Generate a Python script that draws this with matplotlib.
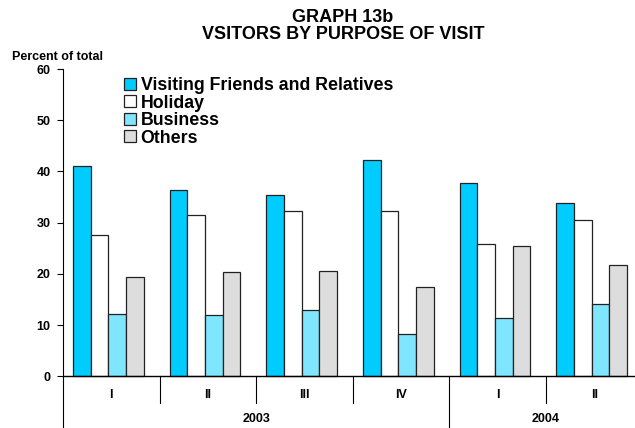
import matplotlib
matplotlib.use("Agg")
import matplotlib.pyplot as plt
import numpy as np

plt.rcParams["font.family"] = ["Liberation Sans", "DejaVu Sans"]
plt.rcParams["font.weight"] = "bold"

# ─── Data ───────────────────────────────────────────────────
quarters = ["I", "II", "III", "IV", "I", "II"]
years = ["2003", "2004"]
year_span = [(0, 3), (4, 5)]          # first/last quarter index of each year
series = ["Visiting Friends and Relatives", "Holiday", "Business", "Others"]
vfr      = [41.0, 36.4, 35.4, 42.2, 37.8, 33.8]
holiday  = [27.5, 31.4, 32.2, 32.3, 25.8, 30.5]
business = [12.2, 11.9, 12.9, 8.3, 11.3, 14.1]
others   = [19.3, 20.4, 20.5, 17.4, 25.4, 21.8]
values = [vfr, holiday, business, others]
colors = ["#00CCFF", "#FFFFFF", "#80E5FF", "#DDDDDD"]

fig = plt.figure(figsize=(6.35, 4.28), dpi=100)
ax = fig.add_axes([63 / 635, 0.0, 572 / 635, (428 - 69) / 428])

x = np.arange(len(quarters))
w = 0.183
for k, (vals, c, name) in enumerate(zip(values, colors, series)):
    ax.bar(x + (k - 1.5) * w - 0.03, vals, width=w, color=c,
           edgecolor="#222222", linewidth=0.9, label=name, zorder=3)

ax.set_xlim(-0.5, 5.42)
ax.set_ylim(-10.1, 60)
ax.set_yticks(range(0, 61, 10))
ax.tick_params(axis="y", direction="out", length=4, width=0.8,
               labelsize=9, pad=5)
ax.set_xticks([])
for s in ["top", "right", "bottom"]:
    ax.spines[s].set_visible(False)
ax.spines["left"].set_linewidth(0.8)
ax.axhline(0, color="black", linewidth=1, zorder=4)

# category dividers and labels below the axis
for i in range(len(quarters) - 1):
    depth = -10.1 if i == year_span[0][1] else -5.2
    ax.plot([i + 0.5, i + 0.5], [0, depth], color="black",
            linewidth=0.8, clip_on=False)
for i, q in enumerate(quarters):
    ax.text(i, -3.6, q, ha="center", va="center", fontsize=9,
            fontweight="bold")
for yr, (a, b) in zip(years, year_span):
    ax.text((a + b) / 2, -8.4, yr, ha="center", va="center",
            fontsize=9, fontweight="bold")

fig.text(12 / 635, 1 - 57 / 428, "Percent of total", fontsize=9,
         fontweight="bold", va="center", ha="left")
fig.text(343 / 635, 1 - 17.5 / 428, "GRAPH 13b", fontsize=13,
         fontweight="bold", ha="center", va="center")
fig.text(343 / 635, 1 - 34.5 / 428, "VSITORS BY PURPOSE OF VISIT",
         fontsize=13, fontweight="bold", ha="center", va="center")

ax.legend(loc="upper left", bbox_to_anchor=(124 / 635, 1 - 77 / 428),
          bbox_transform=fig.transFigure, frameon=False,
          prop={"weight": "bold", "size": 12.8}, handlelength=0.68,
          handleheight=0.68, handletextpad=0.25, labelspacing=0.03,
          borderpad=0, borderaxespad=0)

fig.savefig("out.png", dpi=100)
